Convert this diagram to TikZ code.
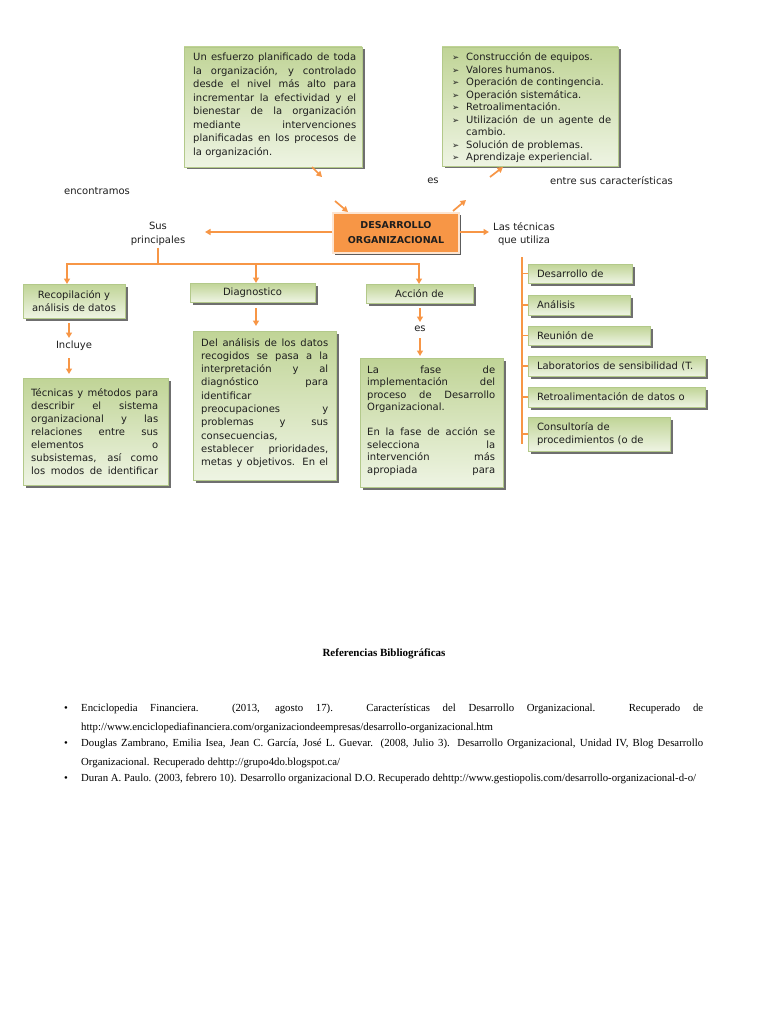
\documentclass[tikz,border=0pt]{standalone}
\usepackage{fontspec}
\setmainfont{DejaVu Sans}
\newfontfamily\reffont{Liberation Serif}
\usetikzlibrary{arrows.meta,shadows,calc}
\definecolor{orng}{HTML}{F79646}
\definecolor{gtop}{HTML}{C0D496}
\definecolor{gbot}{HTML}{EEF4E3}
\definecolor{gline}{HTML}{B3C98A}
\definecolor{txt}{HTML}{1E1E1E}
\newcommand\jline[1]{\noindent\makebox[\linewidth][s]{#1}\par}
\newcommand\lline[1]{\noindent #1\par}
\newcommand\bul{\makebox[14pt][l]{\fontsize{8.5}{8.5}\selectfont ➢}}
\newcommand\bitem[1]{\noindent\bul#1\par}
\begin{document}
\begin{tikzpicture}[x=1pt,y=-1pt,
  every node/.style={text=txt, font=\fontsize{10}{13.5}\selectfont},
  gbox/.style={draw=gline, line width=0.6pt, top color=gtop, bottom color=gbot,
    drop shadow={shadow xshift=2.5pt, shadow yshift=-2.5pt, fill=black!70, opacity=0.8},
    inner sep=0pt, outer sep=0pt, anchor=north west},
  rbox/.style={gbox, inner xsep=9pt, inner ysep=0pt, align=left},
  cbox/.style={fill=orng, draw=orng!25!white, line width=1.2pt, inner sep=0pt,
    minimum width=126pt, minimum height=40pt, align=center,
    font=\bfseries\fontsize{9.5}{15}\selectfont,
    drop shadow={shadow xshift=2pt, shadow yshift=-2pt, fill=black!75, opacity=0.85}},
  tblock/.style={anchor=base west, inner sep=0pt},
  lbl/.style={inner sep=2pt, align=center},
  oline/.style={draw=orng, line width=1.7pt},
  arr/.style={oline, -{Triangle[length=5.5pt,width=6pt]}},
  ref/.style={anchor=base west, inner sep=0pt, text=black, font=\reffont\fontsize{10.8}{12}\selectfont},
]
\useasboundingbox (0,0) rectangle (768,1024);
\fill[white] (0,0) rectangle (768,1024);

% ---------- top boxes ----------
\node[gbox, minimum width=178pt, minimum height=120pt] (boxA) at (184,47) {};
\node[tblock] (tA) at (193,61) {\parbox[t]{163pt}{\fontsize{10}{13.5}\selectfont
\jline{Un esfuerzo planificado de toda}
\jline{la organización, y controlado}
\jline{desde el nivel más alto para}
\jline{incrementar la efectividad y el}
\jline{bienestar de la organización}
\jline{mediante intervenciones}
\jline{planificadas en los procesos de}
\lline{la organización.}}};

\node[gbox, minimum width=176pt, minimum height=119pt] (boxB) at (442,47) {};
\node[tblock] (tB) at (452,61) {\parbox[t]{159pt}{\fontsize{10}{12.5}\selectfont
\bitem{Construcción de equipos.}
\bitem{Valores humanos.}
\bitem{Operación de contingencia.}
\bitem{Operación sistemática.}
\bitem{Retroalimentación.}
\noindent\bul\makebox[145pt][s]{Utilización de un agente de}\par
\noindent\hspace*{14pt}cambio.\par
\bitem{Solución de problemas.}
\bitem{Aprendizaje experiencial.}}};

% ---------- labels ----------
\node[lbl] (enc) at (97,191) {encontramos};
\node[lbl] (es1) at (433,181) {es};
\node[lbl, anchor=west, inner sep=0pt] (entre) at (550,181) {entre sus características};
\node[lbl] (sus) at (158,234) {Sus\\principales};
\node[lbl] (tec) at (524,234) {Las técnicas\\que utiliza};

% ---------- central node ----------
\node[cbox] (ctr) at (396,233) {DESARROLLO\\ORGANIZACIONAL};

% top short arrows
\coordinate (t1s) at (312,167); \coordinate (t1e) at (322,177);
\coordinate (t2s) at (335,201); \coordinate (t2e) at (348,212);
\coordinate (t3s) at (453,211); \coordinate (t3e) at (466,200);
\coordinate (t4s) at (490,177); \coordinate (t4e) at (503,167);
\draw[arr] (t1s) -- (t1e);
\draw[arr] (t2s) -- (t2e);
\draw[arr] (t3s) -- (t3e);
\draw[arr] (t4s) -- (t4e);

% left / right arrows
\coordinate (sa) at (205,232);
\draw[arr] (ctr.west |- sa) -- (sa);
\draw[arr, shorten >=2pt] (ctr.east |- sa) -- (tec.west |- sa);

% ---------- left tree ----------
\node[gbox, minimum width=102pt, minimum height=34pt, align=center, font=\fontsize{10}{13}\selectfont] (rec) at (23,284) {Recopilación y\\análisis de datos};
\node[gbox, minimum width=125pt, minimum height=19pt] (diag) at (190,283) {Diagnostico};
\node[gbox, minimum width=107pt, minimum height=19pt] (acc) at (366,284) {Acción de};

\coordinate (hl) at (67,264);
\coordinate (hd) at (256,264);
\coordinate (hr) at (419,264);
\draw[oline] (sus.south) -- (sus.south |- hl);
\draw[oline] (hl) -- (hr);
\draw[arr] ([yshift=0.8pt]hl) -- (hl |- rec.north);
\draw[arr] (hd) -- (hd |- diag.north);
\draw[arr] ([yshift=0.8pt]hr) -- (hr |- acc.north);

% Recopilacion branch
\node[lbl] (incl) at (74,346) {Incluye};
\coordinate (r1) at (69,323); \coordinate (r2) at (69,338);
\coordinate (r3) at (69,358); \coordinate (r4) at (69,374);
\draw[arr] (r1) -- (r2);
\draw[arr] (r3) -- (r4);
\node[gbox, minimum width=145pt, minimum height=107pt] (tec1) at (23,378) {};
\node[tblock] (tT) at (31,396) {\parbox[t]{127pt}{\fontsize{10}{13}\selectfont
\jline{Técnicas y métodos para}
\jline{describir el sistema}
\jline{organizacional y las}
\jline{relaciones entre sus}
\jline{elementos o}
\jline{subsistemas, así como}
\jline{los modos de identificar}}};

% Diagnostico branch
\coordinate (d1) at (256,308); \coordinate (d2) at (256,326);
\draw[arr] (d1) -- (d2);
\node[gbox, minimum width=143pt, minimum height=149pt] (diagt) at (193,331) {};
\node[tblock] (tD) at (201,346) {\parbox[t]{127pt}{\fontsize{10}{13.3}\selectfont
\jline{Del análisis de los datos}
\jline{recogidos se pasa a la}
\jline{interpretación y al}
\jline{diagnóstico para}
\lline{identificar}
\jline{preocupaciones y}
\jline{problemas y sus}
\lline{consecuencias,}
\jline{establecer prioridades,}
\jline{metas y objetivos. En el}}};

% Accion branch
\node[lbl] (es2) at (420,329) {es};
\coordinate (c1) at (420,308); \coordinate (c2) at (420,322);
\coordinate (c3) at (420,338); \coordinate (c4) at (420,356);
\draw[arr] (c1) -- (c2);
\draw[arr] (c3) -- (c4);
\node[gbox, minimum width=143pt, minimum height=129pt] (acct) at (360,358) {};
\node[tblock] (tC) at (367,373) {\parbox[t]{128pt}{\fontsize{10}{12.6}\selectfont
\jline{La fase de}
\jline{implementación del}
\jline{proceso de Desarrollo}
\lline{Organizacional.}
\vspace{12pt}
\jline{En la fase de acción se}
\jline{selecciona la}
\jline{intervención más}
\jline{apropiada para}}};

% ---------- right tree ----------
\node[rbox, text width=86pt, minimum height=19pt] (r1b) at (528,264) {Desarrollo de};
\node[rbox, text width=84pt, minimum height=20pt] (r2b) at (528,295) {Análisis};
\node[rbox, text width=104pt, minimum height=19pt] (r3b) at (528,326) {Reunión de};
\node[rbox, text width=159pt, minimum height=20pt] (r4b) at (528,356) {Laboratorios de sensibilidad (T.};
\node[rbox, text width=159pt, minimum height=20pt] (r5b) at (528,387) {Retroalimentación de datos o};
\node[rbox, text width=124pt, minimum height=34pt, font=\fontsize{10}{13}\selectfont] (r6b) at (528,417) {Consultoría de\\procedimientos (o de};

\coordinate (vt) at (522,257);
\coordinate (vb) at (522,444);
\draw[oline] (vt) -- (vb);
\foreach \b in {r1b,r2b,r3b,r4b,r5b,r6b}
  \draw[oline] (vt |- \b.west) -- (\b.west);

% ---------- references ----------
\node[anchor=base, inner sep=0pt, text=black, font=\reffont\bfseries\fontsize{11}{13}\selectfont] (refT) at (384,656) {Referencias Bibliográficas};
\node[ref] (b1) at (64,711) {•};
\node[ref] (b2) at (64,746) {•};
\node[ref] (b3) at (64,781) {•};
\node[ref] (l1) at (81,711) {\makebox[622pt][s]{Enciclopedia Financiera. (2013, agosto 17). Características del Desarrollo Organizacional. Recuperado de}};
\node[ref] (l2) at (81,730) {http://www.enciclopediafinanciera.com/organizaciondeempresas/desarrollo-organizacional.htm};
\node[ref] (l3) at (81,746) {\makebox[622pt][s]{Douglas Zambrano, Emilia Isea, Jean C. García, José L. Guevar. (2008, Julio 3). Desarrollo Organizacional, Unidad IV, Blog Desarrollo}};
\node[ref] (l4) at (81,765) {Organizacional. Recuperado dehttp://grupo4do.blogspot.ca/};
\node[ref] (l5) at (81,781) {Duran A. Paulo. (2003, febrero 10). Desarrollo organizacional D.O. Recuperado dehttp://www.gestiopolis.com/desarrollo-organizacional-d-o/};
\end{tikzpicture}
\end{document}
